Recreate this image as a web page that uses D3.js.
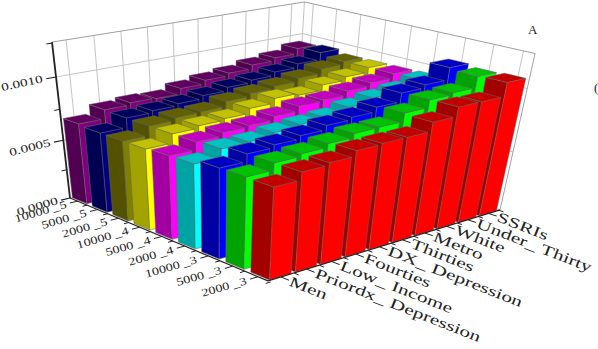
<!DOCTYPE html>
<html>
<head>
<meta charset="utf-8">
<script src="https://cdn.jsdelivr.net/npm/d3@7"></script>
<style>
html, body { margin: 0; padding: 0; background: #fff; overflow: hidden; }
text { font-family: "Liberation Serif", serif; fill: #222; }
</style>
</head>
<body>
<script>
const width = 598
const height = 349

const rows = ["10000 _5", "5000 _5", "2000 _5", "10000 _4", "5000 _4", "2000 _4", "10000 _3", "5000 _3", "2000 _3"]
const cols = ["Men", "Priordx_ Depression", "Low_ Income", "Fourties", "DX_ Depression", "Thirties", "Metro", "White", "Under_ Thirty", "SSRIs"]
const rowColors = ["#800080", "#000080", "#808000", "#ffff00", "#ff00ff", "#00ffff", "#0000ff", "#00ff00", "#ff0000"]

// one list per row, same order as cols
const v10000_5 = [.000675, .000745, .000761, .000754, .000797, .000825, .000846, .000877, .000901, .000943]
const v5000_5 = [.000664, .000740, .000755, .000770, .000795, .000822, .000842, .000871, .000901, .000958]
const v2000_5 = [.000664, .000737, .000758, .000764, .000804, .000828, .000847, .000874, .000912, .000934]
const v10000_4 = [.000666, .000737, .000756, .000768, .000806, .000844, .000830, .000872, .000899, .000936]
const v5000_4 = [.000678, .000738, .000763, .000774, .000802, .000839, .000846, .000878, .000904, .000939]
const v2000_4 = [.000684, .000750, .000757, .000782, .000800, .000812, .000848, .000879, .000903, .000944]
const v10000_3 = [.000722, .000778, .000798, .000821, .000853, .000871, .000906, .000972, .000996, .001088]
const v5000_3 = [.000725, .000778, .000797, .000825, .000854, .000856, .000919, .000976, .000990, .001072]
const v2000_3 = [.000723, .000781, .000798, .000838, .000844, .000843, .000911, .000981, .000978, .001081]
const values = [v10000_5, v5000_5, v2000_5, v10000_4, v5000_4, v2000_4, v10000_3, v5000_3, v2000_3]

const zTicks = [0, .0005, .001]
const zMinor = [.00025, .00075, .00125]

const u = d3.scaleBand().domain(rows).range([0, 1]).paddingInner(.27).paddingOuter(.02)
const v = d3.scaleBand().domain(cols).range([.008, .985]).paddingInner(.17).paddingOuter(0)
const z = d3.scaleLinear().domain([0, .001257]).range([0, 1])
const labelTilt = d3.scaleLinear().domain([0, .001]).range([-16.5, -12])

// perspective camera: left floor corner plus the three vanishing points
const corner = [70, 198]
const vpU = [-1203, -335], kU = -.1346
const vpV = [2127, -288], kV = .1234
const vpZ = [217, 1471], kZ = -.1091

function project(a, b, c) {
    const w = 1 + a * kU + b * kV + c * kZ
    return [
        (corner[0] + a * kU * vpU[0] + b * kV * vpV[0] + c * kZ * vpZ[0]) / w,
        (corner[1] + a * kU * vpU[1] + b * kV * vpV[1] + c * kZ * vpZ[1]) / w
    ]
}

const line = d3.line()
const poly = pts => line(pts.map(p => project(p[0], p[1], p[2]))) + "Z"

const svg = d3.select("body").append("svg").attr("width", width).attr("height", height)

// walls
const walls = svg.append("g").attr("fill", "none").attr("stroke", "#c4c4c4").attr("stroke-width", 1)
cols.forEach(c => {
    const m = v(c) + v.bandwidth() / 2
    walls.append("path").attr("d", line([project(0, m, 0), project(0, m, 1)]))
})
rows.forEach(r => {
    const m = u(r) + u.bandwidth() / 2
    walls.append("path").attr("d", line([project(m, 1, 0), project(m, 1, 1)]))
})
walls.append("path").attr("d", line([project(0, 1, 0), project(0, 1, 1)]))
zTicks.forEach(t => {
    walls.append("path").attr("d", line([project(0, 0, z(t)), project(0, 1, z(t)), project(1, 1, z(t))]))
})
walls.append("path").attr("stroke", "#a0a0a0")
    .attr("d", line([[0, 0, 1], [0, 1, 1], [1, 1, 1], [1, 1, 0]].map(p => project(p[0], p[1], p[2]))))

// bars, back to front
const bars = svg.append("g").attr("stroke", "#666").attr("stroke-width", .5).attr("stroke-linejoin", "round")
rows.forEach((r, i) => {
    const base = d3.rgb(rowColors[i])
    const a0 = u(r), a1 = a0 + u.bandwidth()
    for (let j = cols.length - 1; j >= 0; j--) {
        const b0 = v(cols[j]), b1 = b0 + v.bandwidth()
        const h = z(values[i][j])
        bars.append("path")
            .attr("fill", d3.rgb(base.r * .64, base.g * .64, base.b * .64))
            .attr("d", poly([[a0, b0, 0], [a1, b0, 0], [a1, b0, h], [a0, b0, h]]))
        bars.append("path")
            .attr("fill", base)
            .attr("d", poly([[a1, b0, 0], [a1, b1, 0], [a1, b1, h], [a1, b0, h]]))
        bars.append("path")
            .attr("fill", d3.rgb(base.r * .76, base.g * .76, base.b * .76))
            .attr("d", poly([[a0, b0, h], [a1, b0, h], [a1, b1, h], [a0, b1, h]]))
    }
})

// axes
const axes = svg.append("g").attr("fill", "none").attr("stroke", "#222")
axes.append("path").attr("stroke-width", 1.8).attr("d", line([project(0, 0, 0), project(0, 0, 1)]))
axes.append("path").attr("stroke-width", 1.2).attr("d", line([project(0, 0, 0), project(1, 0, 0)]))
axes.append("path").attr("stroke-width", 1.2).attr("d", line([project(1, 0, 0), project(1, 1, 0)]))

zTicks.forEach(t => axes.append("path").attr("stroke-width", 1.2)
    .attr("d", line([project(0, 0, z(t)), project(0, -.035, z(t))])))
zMinor.forEach(t => axes.append("path").attr("stroke-width", 1)
    .attr("d", line([project(0, 0, z(t)), project(0, -.02, z(t))])))

rows.forEach(r => {
    const m = u(r) + u.bandwidth() / 2
    axes.append("path").attr("d", line([project(m, 0, 0), project(m, -.03, 0)]))
    axes.append("path").attr("d", line([project(m + .055, 0, 0), project(m + .055, -.018, 0)]))
})
cols.forEach(c => {
    const m = v(c) + v.bandwidth() / 2
    axes.append("path").attr("d", line([project(1, m, 0), project(1.035, m, 0)]))
    axes.append("path").attr("d", line([project(1, m + .05, 0), project(1.02, m + .05, 0)]))
})

// labels
const labels = svg.append("g")

zTicks.forEach(t => {
    const p = project(0, -.045, z(t))
    labels.append("text")
        .attr("transform", `translate(${p[0]},${p[1] + 3}) rotate(${labelTilt(t)}) scale(1.4,1)`)
        .attr("text-anchor", "end")
        .attr("font-size", 11)
        .text(t.toFixed(4))
})

rows.forEach(r => {
    const p = project(u(r) + u.bandwidth() / 2, -.04, 0)
    labels.append("text")
        .attr("transform", `translate(${p[0]},${p[1] + 4}) rotate(-16) scale(1.3,1)`)
        .attr("text-anchor", "end")
        .attr("font-size", 11)
        .text(r)
})

cols.forEach(c => {
    const p = project(1.045, v(c) + v.bandwidth() / 2, 0)
    labels.append("text")
        .attr("transform", `translate(${p[0] - 3},${p[1] + 4}) rotate(21.5) scale(1.48,1)`)
        .attr("font-size", 14.5)
        .text(c)
})

svg.append("text").attr("x", 528).attr("y", 34).attr("font-size", 13).text("A")
svg.append("text").attr("x", 594).attr("y", 92).attr("font-size", 13).text("(")
</script>
</body>
</html>
